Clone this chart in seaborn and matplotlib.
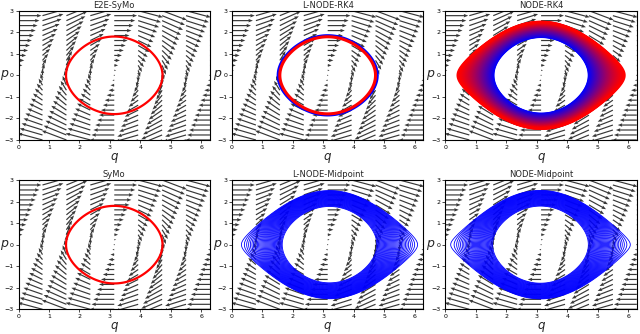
import numpy as np
import matplotlib
matplotlib.use("Agg")
import matplotlib.pyplot as plt
import seaborn as sns

# Pendulum phase space: H(q, p) = p^2/2 + k*cos(q), centre at q = pi
k_pend = 1.6
q_range = (0.0, 2 * np.pi)
p_range = (-3.0, 3.0)

# quiver grid
n_q_arrows = 9
n_p_arrows = 27

titles = ["E2E-SyMo", "L-NODE-RK4", "NODE-RK4",
          "SyMo", "L-NODE-Midpoint", "NODE-Midpoint"]

# orbit energies (single orbits)
e2e_symo_H = [0.02]
lnode_rk4_blue_H = [0.08]
lnode_rk4_red_H = [0.0]
symo_H = [0.02]

# energy bands (first, last, number of traced orbits, q shift)
node_rk4_band = (0.0, 1.47, 80, 0.0)
lnode_mid_band = (-0.03, 1.55, 36, 0.06)
node_mid_band = (0.0, 1.57, 36, -0.02)

sns.set_theme(style="white")
plt.rcParams.update({
    "axes.edgecolor": "black",
    "axes.linewidth": 0.8,
    "xtick.bottom": True,
    "ytick.left": True,
    "xtick.major.size": 2,
    "ytick.major.size": 2,
    "xtick.major.width": 0.5,
    "ytick.major.width": 0.5,
    "xtick.major.pad": 1.5,
    "ytick.major.pad": 1.5,
    "font.family": ["DejaVu Sans"],
})

fig, axes = plt.subplots(2, 3, figsize=(6.4, 3.34), dpi=100)
fig.subplots_adjust(left=0.029, right=0.995, bottom=0.074, top=0.968,
                    wspace=0.115, hspace=0.31)

qg = np.linspace(*q_range, 700)
pg = np.linspace(*p_range, 700)
Q, P = np.meshgrid(qg, pg)


def ham(shift=0.0):
    return P ** 2 / 2 + k_pend * np.cos(Q - shift)


qa = np.linspace(*q_range, n_q_arrows)
pa = np.linspace(*p_range, n_p_arrows)
QA, PA = np.meshgrid(qa, pa)
U = PA
V = k_pend * np.sin(QA)


def draw_orbits(ax, levels, colors, lw, shift=0.0):
    ax.contour(Q, P, ham(shift), levels=levels,
               colors=colors, linewidths=lw, linestyles="solid", zorder=3)


for i, ax in enumerate(axes.flat):
    ax.quiver(QA, PA, U, V, angles="xy", scale_units="xy", scale=3.7,
              color="#383838", width=0.0062, headwidth=3, headlength=3.8,
              headaxislength=3.4, zorder=2)
    ax.set_xlim(*q_range)
    ax.set_ylim(*p_range)
    ax.set_xticks(range(0, 7))
    ax.set_yticks(range(-3, 4))
    ax.tick_params(labelsize=4.5, colors="black")
    ax.set_title(titles[i], fontsize=6, pad=2)
    ax.set_xlabel("$q$", fontsize=8.5)
    ax.xaxis.set_label_coords(0.5, -0.085)
    ax.set_ylabel("$p$", fontsize=9, rotation=0, ha="center", va="center")
    ax.yaxis.set_label_coords(-0.075, 0.5)

# E2E-SyMo
draw_orbits(axes[0, 0], e2e_symo_H, ["red"], 1.6)

# L-NODE-RK4
draw_orbits(axes[0, 1], lnode_rk4_blue_H, ["blue"], 2.4)
draw_orbits(axes[0, 1], lnode_rk4_red_H, ["red"], 2.2)

# NODE-RK4: blue inside -> red outside
lo, hi, n, sh = node_rk4_band
lv = np.linspace(lo, hi, n)
pal = sns.blend_palette(["blue", "red"], n)
for h, c in zip(lv, pal):
    draw_orbits(axes[0, 2], [h], [c], 1.8, sh)

# SyMo
draw_orbits(axes[1, 0], symo_H, ["red"], 1.6)

# Midpoint variants: many thin blue orbits
for ax, band in [(axes[1, 1], lnode_mid_band), (axes[1, 2], node_mid_band)]:
    lo, hi, n, sh = band
    lv = np.linspace(lo, hi, n)
    draw_orbits(ax, list(lv), ["blue"], 0.6, sh)

fig.savefig("out.png", dpi=100)
